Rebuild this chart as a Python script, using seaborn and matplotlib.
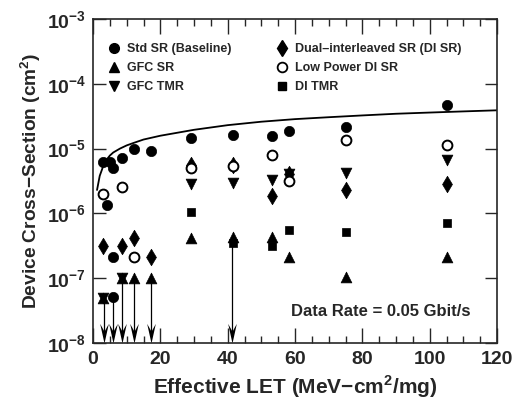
import numpy as np
import pandas as pd
import seaborn as sns
import matplotlib.pyplot as plt
from matplotlib.lines import Line2D
from matplotlib.path import Path
from matplotlib.ticker import MultipleLocator, FixedLocator, NullLocator

# data (LET in MeV-cm2/mg, cross-section in cm2)
std_sr_x = [2.9, 5.0, 5.8, 8.7, 12.3, 17.2, 4.2, 5.8, 6.0, 29.1, 41.5, 53.3, 58.3, 75.1, 105]
std_sr_y = [6.2e-6, 6.3e-6, 5.1e-6, 7.2e-6, 9.7e-6, 9.2e-6, 1.35e-6, 2.1e-7, 5.1e-8,
            1.45e-5, 1.6e-5, 1.55e-5, 1.9e-5, 2.15e-5, 4.7e-5]

di_sr_x = [2.9, 8.7, 12.3, 17.2, 29.1, 41.5, 53.3, 58.3, 75.1, 105]
di_sr_y = [3.1e-7, 3.1e-7, 4.2e-7, 2.1e-7, 5.5e-6, 5.6e-6, 1.85e-6, 4.0e-6, 2.3e-6, 2.8e-6]

lp_di_sr_x = [2.9, 8.7, 12.3, 29.1, 41.5, 53.3, 58.3, 75.1, 105]
lp_di_sr_y = [2.0e-6, 2.6e-6, 2.1e-7, 5.1e-6, 5.3e-6, 7.9e-6, 3.2e-6, 1.35e-5, 1.15e-5]

gfc_sr_x = [2.9, 8.7, 12.3, 17.2, 29.1, 41.5, 53.3, 58.3, 75.1, 105]
gfc_sr_y = [5e-8, 1.0e-7, 1.0e-7, 1.0e-7, 4.2e-7, 4.3e-7, 4.3e-7, 2.1e-7, 1.05e-7, 2.1e-7]

gfc_tmr_x = [2.9, 8.7, 29.1, 41.5, 53.3, 58.3, 75.1, 105]
gfc_tmr_y = [5e-8, 1.0e-7, 2.8e-6, 2.9e-6, 3.3e-6, 4.1e-6, 4.2e-6, 6.6e-6]

di_tmr_x = [29.1, 41.5, 53.3, 58.3, 75.1, 105]
di_tmr_y = [1.05e-6, 3.5e-7, 3.1e-7, 5.6e-7, 5.1e-7, 7.1e-7]

# upper-limit arrows (no upsets seen)
arrow_x = [3.2, 6.0, 8.7, 12.3, 17.1, 41.3]
arrow_y = [5e-8, 5.1e-8, 1.0e-7, 1.0e-7, 1.0e-7, 3.5e-7]

# fitted curve, points
fit_x = [1.2, 2, 3, 4, 5, 6, 8, 10, 12, 15, 20, 30, 40, 50, 60, 70, 80, 90, 100, 110, 120]
fit_y = [2.3e-6, 3.8e-6, 5.3e-6, 6.7e-6, 7.8e-6, 8.7e-6, 1.0e-5, 1.12e-5, 1.22e-5, 1.38e-5,
         1.58e-5, 1.95e-5, 2.3e-5, 2.6e-5, 2.85e-5, 3.05e-5, 3.25e-5, 3.45e-5, 3.6e-5,
         3.75e-5, 3.9e-5]

sns.set_style("ticks")
plt.rcParams['font.family'] = ['Liberation Sans', 'DejaVu Sans']
plt.rcParams['font.weight'] = 'bold'
plt.rcParams['mathtext.fontset'] = 'custom'
plt.rcParams['mathtext.rm'] = 'Liberation Sans:bold'
plt.rcParams['mathtext.bf'] = 'Liberation Sans:bold'

fig = plt.figure(figsize=(5.12, 4.09), dpi=100)
ax = fig.add_axes([93 / 512, 1 - 343 / 409, 404 / 512, 324 / 409])

sns.lineplot(x=fit_x, y=fit_y, color='black', linewidth=1.3, ax=ax, sort=False)

# arrow shafts and notched heads (tip of the head marker sits at its origin)
ax.vlines(arrow_x, 1.3e-8, arrow_y, color='black', linewidth=0.9, zorder=2)
head = Path([(0, 0), (-0.22, 1), (0, 0.6), (0.22, 1), (0, 0)],
            [Path.MOVETO, Path.LINETO, Path.LINETO, Path.LINETO, Path.CLOSEPOLY])
sns.scatterplot(x=arrow_x, y=[1e-8] * len(arrow_x), marker=head, s=800, color='black',
                linewidth=0, ax=ax, zorder=2, clip_on=False)

series = [
    (std_sr_x, std_sr_y, 'o', 'black', 55),
    (gfc_sr_x, gfc_sr_y, '^', 'black', 60),
    (gfc_tmr_x, gfc_tmr_y, 'v', 'black', 60),
    (di_sr_x, di_sr_y, 'd', 'black', 70),
    (lp_di_sr_x, lp_di_sr_y, 'o', 'white', 50),
    (di_tmr_x, di_tmr_y, 's', 'black', 38),
]
for xs, ys, mk, fc, size in series:
    df = pd.DataFrame({"let": xs, "xs": ys})
    sns.scatterplot(data=df, x="let", y="xs", marker=mk, s=size, color=fc,
                    edgecolor='black', linewidth=1.4 if fc == 'white' else 0.5,
                    ax=ax, zorder=3)

ax.set_yscale('log')
ax.set_xlim(0, 120)
ax.set_ylim(1e-8, 1e-3)
ax.xaxis.set_major_locator(MultipleLocator(20))
ax.xaxis.set_minor_locator(MultipleLocator(5))
decades = [1e-8, 1e-7, 1e-6, 1e-5, 1e-4, 1e-3]
ax.yaxis.set_major_locator(FixedLocator(decades))
ax.yaxis.set_minor_locator(NullLocator())
ax.set_yticklabels([r'$\mathbf{10^{%d}}$' % int(np.log10(d)) for d in decades])
ax.tick_params(axis='both', which='both', direction='in', top=True, right=True,
               width=1.0, labelsize=14)
ax.tick_params(axis='x', which='major', length=11, pad=6)
ax.tick_params(axis='x', which='minor', length=5)
ax.tick_params(axis='y', which='major', length=9, pad=5)
for sp in ax.spines.values():
    sp.set_linewidth(1.2)

ax.set_xlabel(r'Effective LET (MeV$-$cm$^{\mathbf{2}}$/mg)', fontsize=15, fontweight='bold', labelpad=4)
ax.set_ylabel(r'Device Cross$-$Section (cm$^{\mathbf{2}}$)', fontsize=13.8, fontweight='bold', labelpad=3)

ax.text(58.8, 3.1e-8, 'Data Rate = 0.05 Gbit/s', fontsize=12, fontweight='bold', va='center')

handles = [
    Line2D([], [], marker='o', ls='', color='black', markersize=7),
    Line2D([], [], marker='^', ls='', color='black', markersize=7),
    Line2D([], [], marker='v', ls='', color='black', markersize=7),
    Line2D([], [], marker='d', ls='', color='black', markersize=8),
    Line2D([], [], marker='o', ls='', markerfacecolor='white', markeredgecolor='black',
           markeredgewidth=1.3, markersize=7),
    Line2D([], [], marker='s', ls='', color='black', markersize=6),
]
labels = ['Std SR (Baseline)', 'GFC SR', 'GFC TMR',
          'Dual\u2013interleaved SR (DI SR)', 'Low Power DI SR', 'DI TMR']
ax.legend(handles, labels, ncol=2, frameon=False, loc='upper left',
          bbox_to_anchor=(0.0, 0.96), prop={'size': 9, 'weight': 'bold'},
          handletextpad=0.3, columnspacing=3.3, labelspacing=0.55, handlelength=1.5)

plt.savefig('out.png', dpi=100)
plt.close()
